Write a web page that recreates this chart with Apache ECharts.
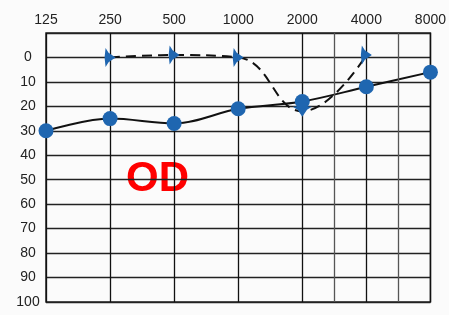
<!DOCTYPE html>
<html>
<head>
<meta charset="utf-8">
<script src="https://cdn.jsdelivr.net/npm/echarts@6/dist/echarts.min.js"></script>
<style>
  html, body { margin: 0; padding: 0; background: #fbfbfb; }
  #main { width: 449px; height: 315px; }
</style>
</head>
<body>
<div id="main"></div>
<script>
// frequencies (one octave per step on the x axis)
var freqLabels = ['125', '250', '500', '1000', '2000', '4000', '8000'];
// air conduction, solid line with circles
var airX = [0, 1, 2, 3, 4, 5, 6];
var airDb = [30, 25, 27, 21, 18, 12, 6];
// bone conduction, dashed line with arrows
var boneX = [1, 2, 3, 4, 5];
var boneDb = [0, -1, 0, 22, -1];
var boneRot = [0, 0, 0, -90, 0];
// the extra half-octave lines (3000, 6000)
var halfLines = [4.5, 5.5];

var arrow = 'path://M1,0 L4,5 L11,10 L4,15 L1,20 L0,10 Z';
var blue = '#1f66b0';

function pairs(xs, ys) {
  var out = [];
  for (var i = 0; i < xs.length; i++) out.push([xs[i], ys[i]]);
  return out;
}

var boneData = [];
for (var i = 0; i < boneX.length; i++) {
  boneData.push({ value: [boneX[i], boneDb[i]], symbolRotate: boneRot[i] });
}

var chart = echarts.init(document.getElementById('main'));
chart.setOption({
  backgroundColor: '#fbfbfb',
  animation: false,
  grid: { left: 46, right: 8, top: 33, bottom: 13, show: true, borderColor: '#222', borderWidth: 1.5 },
  xAxis: {
    type: 'value', position: 'top', min: 0, max: 6, interval: 1,
    axisLine: { show: false }, axisTick: { show: false },
    axisLabel: {
      margin: 6, color: '#222', fontSize: 14, fontFamily: 'Liberation Sans',
      formatter: function (v) { return freqLabels[v] || ''; }
    },
    splitLine: { show: true, lineStyle: { color: '#111', width: 1.3 } }
  },
  yAxis: {
    type: 'value', inverse: true, min: -10, max: 100, interval: 10,
    axisLine: { show: false }, axisTick: { show: false },
    axisLabel: {
      margin: 18, align: 'center', color: '#222', fontSize: 14, fontFamily: 'Liberation Sans',
      formatter: function (v) { return v < 0 ? '' : v; }
    },
    splitLine: { show: true, lineStyle: { color: '#222', width: 1.3 } }
  },
  graphic: [{
    type: 'text', left: 126, top: 158,
    style: { text: 'OD', fill: '#ff0000', font: 'bold 42px "Liberation Sans", Arial, sans-serif' }
  }],
  series: [
    {
      type: 'line', name: 'bone', data: boneData, smooth: 0.45,
      symbol: arrow, symbolSize: [11, 19],
      lineStyle: { color: '#111', width: 2, type: [10, 6] },
      itemStyle: { color: blue },
      z: 3
    },
    {
      type: 'line', name: 'air', data: pairs(airX, airDb), smooth: 0.35,
      symbol: 'circle', symbolSize: 15,
      lineStyle: { color: '#111', width: 2 },
      itemStyle: { color: blue },
      markLine: {
        silent: true, symbol: 'none', label: { show: false },
        lineStyle: { color: '#555', type: 'solid', width: 1.3 },
        data: halfLines.map(function (x) { return { xAxis: x }; })
      },
      z: 4
    }
  ]
});
</script>
</body>
</html>
